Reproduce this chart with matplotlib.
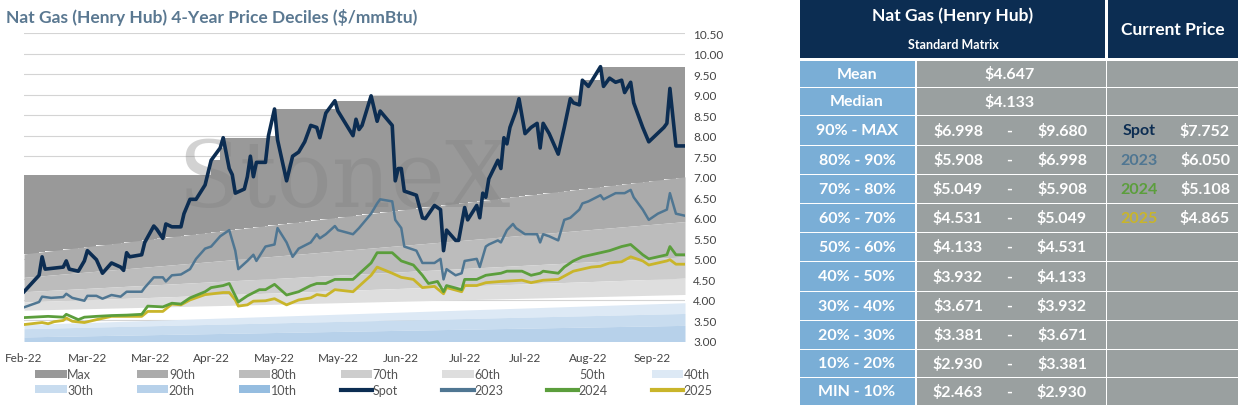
"""Nat Gas (Henry Hub) 4-year price deciles chart with the standard matrix table."""

import matplotlib
matplotlib.use("Agg")
import matplotlib.pyplot as plt
import numpy as np
from matplotlib.patches import Rectangle, Patch
from matplotlib.lines import Line2D

plt.rcParams["font.family"] = ["Lato", "DejaVu Sans"]

# Price series (x = days since start of window, y = $/mmBtu).
spot_days = [0, 5, 6, 7, 13, 14, 15, 18, 20, 21, 24, 26, 29, 32, 33, 34, 35, 39, 40,
             43, 44, 46, 47, 49, 52, 53, 55, 57, 60, 62, 65, 66, 68, 69, 70, 73, 74,
             75, 76, 77, 80, 81, 83, 84, 87, 89, 91, 93, 95, 97, 98, 100, 103, 104,
             109, 110, 111, 112, 115, 117, 118, 122, 123, 124, 125, 126, 130, 132,
             133, 136, 138, 139, 140, 143, 144, 146, 147, 150, 151, 152, 153, 154,
             157, 158, 159, 160, 161, 163, 164, 166, 168, 170, 171, 172, 174, 177,
             179, 181, 182, 184, 185, 187, 191, 192, 194, 196, 198, 199, 201, 202,
             205, 207, 212, 213, 214, 216, 219]
spot = [4.2, 4.6, 5.05, 4.75, 4.8, 4.95, 4.75, 4.7, 4.95, 5.2, 4.98, 4.65, 4.9, 4.8,
        4.72, 5.15, 5.05, 5.1, 5.4, 5.8, 5.72, 5.5, 5.85, 5.78, 5.78, 6.1, 6.45, 6.45,
        6.8, 7.4, 7.7, 7.95, 7.2, 7.05, 6.6, 6.7, 7.0, 7.5, 7.0, 7.35, 7.35, 8.0, 8.65,
        7.9, 6.9, 7.5, 7.6, 7.85, 8.25, 8.2, 7.95, 8.55, 8.85, 8.6, 8.0, 8.4, 8.15,
        8.25, 8.97, 8.35, 8.6, 8.25, 6.9, 7.2, 7.2, 6.65, 6.55, 6.0, 5.98, 6.3, 6.2,
        5.2, 5.7, 5.45, 5.45, 6.25, 5.95, 6.3, 6.0, 6.6, 6.5, 6.95, 7.4, 7.2, 7.95,
        7.8, 8.2, 8.6, 8.9, 8.05, 8.2, 8.3, 7.7, 8.3, 8.05, 7.55, 8.2, 8.9, 8.8, 8.75,
        9.35, 9.2, 9.68, 9.2, 9.4, 9.3, 9.35, 9.05, 9.3, 8.8, 8.2, 7.85, 8.2, 8.3,
        9.15, 7.75, 7.75]

y2023_days = [0, 5, 6, 9, 13, 14, 16, 20, 21, 24, 26, 29, 32, 34, 39, 40, 43, 46, 47,
              49, 52, 55, 57, 60, 62, 65, 68, 70, 71, 74, 76, 77, 80, 83, 84, 87, 89,
              91, 95, 97, 98, 100, 103, 104, 109, 111, 115, 117, 118, 122, 123, 125,
              126, 130, 132, 136, 138, 139, 140, 143, 145, 146, 150, 151, 153, 154,
              157, 158, 160, 162, 163, 166, 170, 171, 172, 174, 177, 179, 181, 184,
              185, 187, 191, 192, 196, 199, 201, 202, 205, 207, 210, 213, 214, 216, 219]
y2023 = [3.82, 3.95, 4.08, 4.05, 4.07, 4.15, 4.05, 3.98, 4.1, 4.1, 4.03, 4.12, 4.08,
         4.2, 4.2, 4.3, 4.55, 4.55, 4.45, 4.6, 4.62, 4.75, 5.0, 5.25, 5.3, 5.55, 5.7,
         5.2, 4.75, 4.95, 5.1, 4.95, 5.3, 5.35, 5.75, 5.4, 5.05, 5.25, 5.4, 5.6, 5.5,
         5.6, 5.8, 5.7, 5.6, 5.75, 6.1, 6.35, 6.45, 6.4, 5.95, 5.75, 5.3, 5.2, 4.9,
         4.9, 5.0, 4.5, 4.75, 4.6, 4.65, 4.95, 5.0, 4.8, 5.3, 5.35, 5.45, 5.4, 5.7,
         5.85, 5.75, 5.6, 5.6, 5.4, 5.6, 5.55, 5.45, 5.95, 6.0, 6.2, 6.35, 6.4, 6.55,
         6.45, 6.6, 6.6, 6.68, 6.5, 6.2, 5.95, 6.1, 6.2, 6.6, 6.1, 6.05]

y2024_days = [0, 8, 13, 14, 18, 20, 24, 29, 34, 39, 41, 46, 49, 52, 55, 60, 62, 66, 68,
              70, 71, 74, 78, 80, 83, 87, 91, 95, 97, 100, 103, 109, 112, 115, 117, 122,
              125, 129, 132, 134, 137, 139, 140, 145, 146, 150, 153, 158, 160, 165, 168,
              171, 172, 177, 179, 182, 185, 188, 191, 194, 198, 201, 205, 207, 210, 213,
              214, 216, 219]
y2024 = [3.57, 3.6, 3.58, 3.65, 3.52, 3.58, 3.6, 3.62, 3.63, 3.65, 3.85, 3.83, 3.92,
         3.9, 4.05, 4.2, 4.3, 4.35, 4.4, 4.1, 3.95, 4.1, 4.25, 4.25, 4.38, 4.12, 4.2,
         4.35, 4.4, 4.4, 4.5, 4.5, 4.7, 4.9, 5.15, 5.15, 4.95, 4.85, 4.6, 4.4, 4.45,
         4.2, 4.35, 4.25, 4.5, 4.5, 4.6, 4.65, 4.7, 4.7, 4.6, 4.65, 4.7, 4.65, 4.8,
         4.95, 5.05, 5.1, 5.15, 5.2, 5.3, 5.35, 5.1, 5.0, 5.05, 5.1, 5.3, 5.1, 5.1]

y2025_days = [0, 6, 8, 10, 13, 14, 16, 20, 24, 29, 34, 39, 41, 46, 49, 52, 55, 60, 66,
              68, 70, 71, 74, 76, 80, 83, 87, 91, 95, 97, 100, 103, 109, 112, 115, 117,
              122, 125, 129, 132, 136, 139, 140, 145, 146, 150, 153, 158, 165, 168, 172,
              177, 179, 182, 185, 188, 191, 194, 198, 201, 205, 207, 210, 213, 214, 216,
              219]
y2025 = [3.4, 3.45, 3.42, 3.47, 3.5, 3.56, 3.48, 3.45, 3.52, 3.6, 3.6, 3.6, 3.72, 3.72,
         3.9, 3.88, 4.0, 4.13, 4.18, 4.18, 4.0, 3.85, 3.88, 3.97, 3.98, 4.03, 3.88, 4.0,
         4.05, 4.13, 4.1, 4.25, 4.2, 4.4, 4.6, 4.8, 4.65, 4.55, 4.5, 4.3, 4.33, 4.15,
         4.3, 4.2, 4.35, 4.35, 4.42, 4.45, 4.48, 4.42, 4.48, 4.5, 4.58, 4.7, 4.75, 4.8,
         4.82, 4.9, 4.93, 5.05, 4.95, 4.85, 4.9, 4.95, 4.98, 4.87, 4.87]

# Decile boundaries at the start and end of the window.
band_days = [0, 219]
prior_max = 7.05
p90 = [5.12, 6.998]
p80 = [4.55, 5.908]
p70 = [4.2, 5.049]
p60 = [3.95, 4.531]
p50 = [3.75, 4.133]
p40 = [3.4, 3.932]
p30 = [3.3, 3.671]
p20 = [3.1, 3.381]
p10 = [2.75, 2.930]
p_min = [2.463, 2.463]

tick_days = [0, 21, 42, 62, 83, 104, 125, 146, 166, 187, 208]
tick_labels = ["Feb-22", "Mar-22", "Mar-22", "Apr-22", "May-22", "May-22", "Jun-22",
               "Jul-22", "Jul-22", "Aug-22", "Sep-22"]

# Standard matrix table.
row_labels = ["Mean", "Median", "90% - MAX", "80% - 90%", "70% - 80%", "60% - 70%",
              "50% - 60%", "40% - 50%", "30% - 40%", "20% - 30%", "10% - 20%",
              "MIN - 10%"]
low_vals = ["$4.647", "$4.133", "$6.998", "$5.908", "$5.049", "$4.531", "$4.133",
            "$3.932", "$3.671", "$3.381", "$2.930", "$2.463"]
high_vals = [None, None, "$9.680", "$6.998", "$5.908", "$5.049", "$4.531", "$4.133",
             "$3.932", "$3.671", "$3.381", "$2.930"]
current_names = ["Spot", "2023", "2024", "2025"]
current_vals = ["$7.752", "$6.050", "$5.108", "$4.865"]

NAVY = "#0c2d52"
C2023 = "#4f7692"
C2024 = "#5b9e3c"
C2025 = "#c9b52a"

fig = plt.figure(figsize=(12.38, 4.06), dpi=100)
ax = fig.add_axes([24 / 1238, 64 / 406, 661 / 1238, 308 / 406])

spot_arr = np.array(spot)
max_line = np.maximum.accumulate(np.maximum(spot_arr, prior_max))
p90_at_spot = np.interp(spot_days, band_days, p90)
ax.fill_between(spot_days, p90_at_spot, max_line, step="post", color="#999999", lw=0)

bands = [(p90, p80, "#ababab"), (p80, p70, "#bcbcbc"), (p70, p60, "#cdcdcd"),
         (p60, p50, "#dedede"), (p40, p30, "#dde9f5"), (p30, p20, "#c8dcef"),
         (p20, p10, "#b7d1ea"), (p10, p_min, "#a6c6e4")]
for upper, lower, color in bands:
    ax.fill_between(band_days, lower, upper, color=color, lw=0)

for level in np.arange(3.0, 10.51, 0.5):
    ax.axhline(level, color="#d4d4d4", lw=0.8, zorder=0.5)

ax.text(106, 6.9, "StoneX", fontsize=66, family="DejaVu Serif", color="#808080",
        alpha=0.35, ha="center", va="center", zorder=1)

ax.plot(y2025_days, y2025, color=C2025, lw=2.0, zorder=3)
ax.plot(y2024_days, y2024, color=C2024, lw=2.0, zorder=3)
ax.plot(y2023_days, y2023, color=C2023, lw=1.8, zorder=3)
ax.plot(spot_days, spot, color=NAVY, lw=2.6, zorder=4)

ax.set_xlim(0, 219)
ax.set_ylim(3.0, 10.5)
ax.set_yticks(np.arange(3.0, 10.51, 0.5))
ax.set_yticklabels([f"{v:.2f}" for v in np.arange(3.0, 10.51, 0.5)])
ax.yaxis.tick_right()
ax.set_xticks(tick_days)
ax.set_xticklabels(tick_labels)
ax.tick_params(length=0, labelsize=8.5, labelcolor="#444444")
ax.tick_params(axis="y", pad=6)
ax.tick_params(axis="x", pad=8)
for spine in ax.spines.values():
    spine.set_visible(False)

fig.text(6 / 1238, 1 - 17 / 406, "Nat Gas (Henry Hub) 4-Year Price Deciles ($/mmBtu)",
         fontsize=12.5, fontweight="bold", color="#5a7891", va="center")

names = ["Max", "90th", "80th", "70th", "60th", "50th", "40th",
         "30th", "20th", "10th"]
colors = ["#999999", "#ababab", "#bcbcbc", "#cdcdcd", "#dedede", "none", "#dde9f5",
          "#c8dcef", "#b7d1ea", "#95bde0"]
handles = [Patch(facecolor=c, edgecolor="none", label=n) for n, c in zip(names, colors)]
handles += [Line2D([], [], color=NAVY, lw=3, label="Spot"),
            Line2D([], [], color=C2023, lw=3, label="2023"),
            Line2D([], [], color=C2024, lw=3, label="2024"),
            Line2D([], [], color=C2025, lw=3, label="2025")]
# legend fills column-wise: pair each top-row item with its bottom-row item
order = []
for i in range(7):
    order += [handles[i], handles[i + 7]]
fig.legend(handles=order, ncol=7, loc="lower left",
           bbox_to_anchor=(24 / 1238, -0.005, 700 / 1238, 0.1), mode="expand",
           frameon=False, fontsize=9, handlelength=2.5, handleheight=0.6,
           handletextpad=0.05, labelspacing=0.3, labelcolor="#555555")

# table drawn in pixel units
tax = fig.add_axes([800 / 1238, 0, 438 / 1238, 1])
tax.set_xlim(0, 438)
tax.set_ylim(406, 0)
tax.axis("off")
tax.add_patch(Rectangle((0, 0), 305, 59, color=NAVY, lw=0))
tax.add_patch(Rectangle((308, 0), 130, 59, color=NAVY, lw=0))
tax.text(153, 16, "Nat Gas (Henry Hub)", color="white", fontsize=12.5, ha="center",
         va="center", fontweight="bold")
tax.text(153, 45, "Standard Matrix", color="white", fontsize=9, ha="center",
         va="center", fontweight="bold")
tax.text(373, 30, "Current Price", color="white", fontsize=12.5, ha="center",
         va="center", fontweight="bold")

row_edges = [62, 89, 117, 147, 176, 205, 234, 263, 293, 322, 351, 379, 407]
cur_colors = [NAVY, C2023, C2024, C2025]
fs = 11.5
for i, label in enumerate(row_labels):
    top, bottom = row_edges[i], row_edges[i + 1]
    h = bottom - top - 1.5
    yc = top + h / 2
    tax.add_patch(Rectangle((0, top), 115, h, color="#7aaed6", lw=0))
    tax.add_patch(Rectangle((116.5, top), 189, h, color="#9aa0a0", lw=0))
    tax.add_patch(Rectangle((307, top), 131, h, color="#9aa0a0", lw=0))
    tax.text(57, yc, label, color="white", fontsize=fs, fontweight="bold",
             ha="center", va="center")
    if high_vals[i] is None:
        tax.text(210, yc, low_vals[i], color="white", fontsize=fs,
                 fontweight="bold", ha="center", va="center")
    else:
        tax.text(158, yc, low_vals[i], color="white", fontsize=fs,
                 fontweight="bold", ha="center", va="center")
        tax.text(209, yc, "-", color="white", fontsize=fs, fontweight="bold",
                 ha="center", va="center")
        tax.text(262, yc, high_vals[i], color="white", fontsize=fs,
                 fontweight="bold", ha="center", va="center")
    j = i - 2
    if 0 <= j < len(current_names):
        tax.text(339, yc, current_names[j], color=cur_colors[j], fontsize=fs,
                 fontweight="bold", ha="center", va="center")
        tax.text(405, yc, current_vals[j], color="white", fontsize=fs,
                 fontweight="bold", ha="center", va="center")

fig.savefig("out.png", dpi=100)
